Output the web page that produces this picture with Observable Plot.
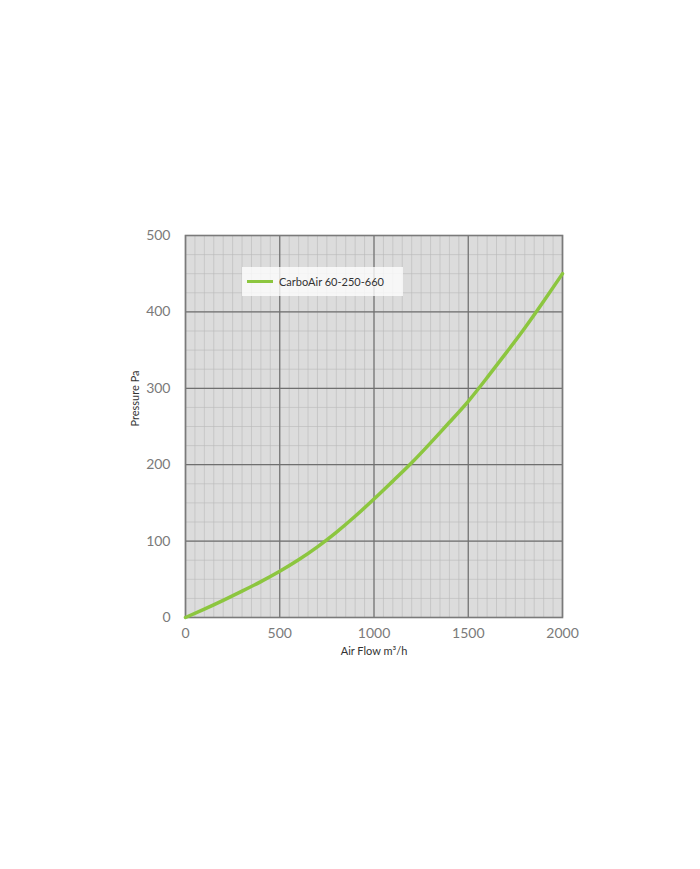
<!DOCTYPE html>
<html>
<head>
<meta charset="utf-8">
<script src="https://cdn.jsdelivr.net/npm/d3@7"></script>
<script src="https://cdn.jsdelivr.net/npm/@observablehq/plot@0.6"></script>
<style>
  body { margin: 0; background: #fff; }
  #wrap { position: relative; width: 700px; height: 869px; }
  .legend {
    position: absolute; left: 242px; top: 267px; width: 161px; height: 29px;
    background: rgba(255,255,255,0.78);
    font-family: Lato, "Open Sans", sans-serif; font-size: 11px; color: #333;
    display: flex; align-items: center;
  }
  .legend .sw { display: inline-block; width: 26px; height: 3.5px; background: #8cc63f; margin-left: 5px; margin-right: 6px; }
</style>
</head>
<body>
<div id="wrap"></div>
<script>
// Data
const flow =     [0, 100, 200,  300,  400, 500,  600,  700,  800,   900,   1000, 1100,  1200,  1300,  1400,  1500, 1600, 1700, 1800, 1900,  2000];
const pressure = [0, 11,  22.5, 34.5, 47,  60.5, 75.5, 92.5, 111.5, 132.5, 155,  178.5, 202.5, 228.5, 255.5, 283,  314,  346,  379,  414,   450];
const seriesName = "CarboAir 60-250-660";
const xTicks = [0, 500, 1000, 1500, 2000];
const yTicks = [0, 100, 200, 300, 400, 500];
const xMinorTicks = d3.range(0, 2001, 50);
const yMinorTicks = d3.range(0, 501, 25);
const xLabel = "Air Flow m³/h";
const yLabel = "Pressure Pa";

const data = flow.map((f, i) => ({flow: f, pressure: pressure[i]}));

const fontFam = "Lato, 'Open Sans', sans-serif";

const chart = Plot.plot({
  width: 700,
  height: 869,
  marginLeft: 185,
  marginRight: 138,
  marginTop: 235,
  marginBottom: 252,
  style: {fontFamily: fontFam, background: "#fff"},
  x: {domain: [0, 2000]},
  y: {domain: [0, 500]},
  marks: [
    Plot.frame({fill: "#dcdcdc"}),
    Plot.gridX({ticks: xMinorTicks, stroke: "#b8b8b8", strokeOpacity: 1, strokeWidth: 0.6}),
    Plot.gridY({ticks: yMinorTicks, stroke: "#b8b8b8", strokeOpacity: 1, strokeWidth: 0.6}),
    Plot.gridX({ticks: xTicks, stroke: "#6f6f6f", strokeOpacity: 1, strokeWidth: 1.2}),
    Plot.gridY({ticks: yTicks, stroke: "#6f6f6f", strokeOpacity: 1, strokeWidth: 1.2}),
    Plot.frame({stroke: "#7a7a7a", strokeWidth: 1.6}),
    Plot.line(data, {x: "flow", y: "pressure", stroke: "#8cc63f", strokeWidth: 3.5, curve: "natural"}),
    Plot.axisX({ticks: xTicks, tickFormat: d3.format("d"), tickSize: 0, tickPadding: 11, fontSize: 14, color: "#7a7a7a", label: null}),
    Plot.axisY({ticks: yTicks, tickFormat: d3.format("d"), tickSize: 0, tickPadding: 15, fontSize: 14, color: "#7a7a7a", label: null}),
    Plot.text([xLabel], {frameAnchor: "bottom", dy: 37, text: d => d, fontSize: 11, fill: "#333"}),
    Plot.text([yLabel], {frameAnchor: "left", dx: -50, rotate: -90, text: d => d, fontSize: 11, fill: "#333"})
  ]
});

const wrap = document.getElementById("wrap");
wrap.appendChild(chart);
const leg = document.createElement("div");
leg.className = "legend";
leg.innerHTML = '<span class="sw"></span><span></span>';
leg.lastChild.textContent = seriesName;
wrap.appendChild(leg);
</script>
</body>
</html>
